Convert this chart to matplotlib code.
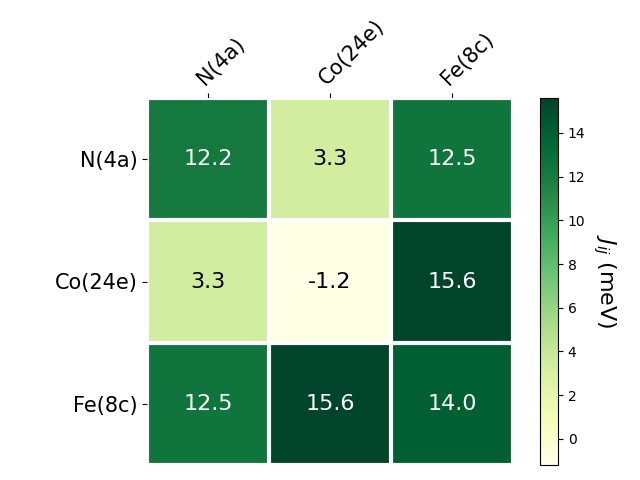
import numpy as np
import matplotlib
matplotlib.use("Agg")
import matplotlib.pyplot as plt

labels = ["N(4a)", "Co(24e)", "Fe(8c)"]
values = np.array([[12.2, 3.3, 12.5],
                   [3.3, -1.2, 15.6],
                   [12.5, 15.6, 14.0]])

fig = plt.figure(figsize=(6.4, 4.8), dpi=100)
ax = fig.add_axes([147/640, 15/480, 366/640, 367/480])
cax = fig.add_axes([540/640, 15/480, 18/640, 367/480])

im = ax.imshow(values, cmap="YlGn", aspect="auto")
cbar = fig.colorbar(im, cax=cax)
cbar.set_ticks(np.arange(0, 15, 2))
cbar.ax.set_ylabel("$J_{ij}$ (meV)", rotation=-90, va="bottom", fontsize=16)

ax.set_xticks(np.arange(len(labels)))
ax.set_yticks(np.arange(len(labels)))
ax.set_xticklabels(labels, fontsize=15)
ax.set_yticklabels(labels, fontsize=15)
ax.tick_params(top=True, bottom=False, labeltop=True, labelbottom=False)
plt.setp(ax.get_xticklabels(), rotation=45, ha="left", rotation_mode="anchor")

for s in ax.spines.values():
    s.set_visible(False)
ax.set_xticks(np.arange(values.shape[1] + 1) - .5, minor=True)
ax.set_yticks(np.arange(values.shape[0] + 1) - .5, minor=True)
ax.grid(which="minor", color="w", linestyle='-', linewidth=3)
ax.tick_params(which="minor", bottom=False, left=False, top=False)

thr = im.norm(values.max()) / 2.
for i in range(values.shape[0]):
    for j in range(values.shape[1]):
        c = "white" if im.norm(values[i, j]) > thr else "black"
        ax.text(j, i, f"{values[i, j]:.1f}", ha="center", va="center", color=c, fontsize=16)

fig.savefig("out.png", dpi=100)
